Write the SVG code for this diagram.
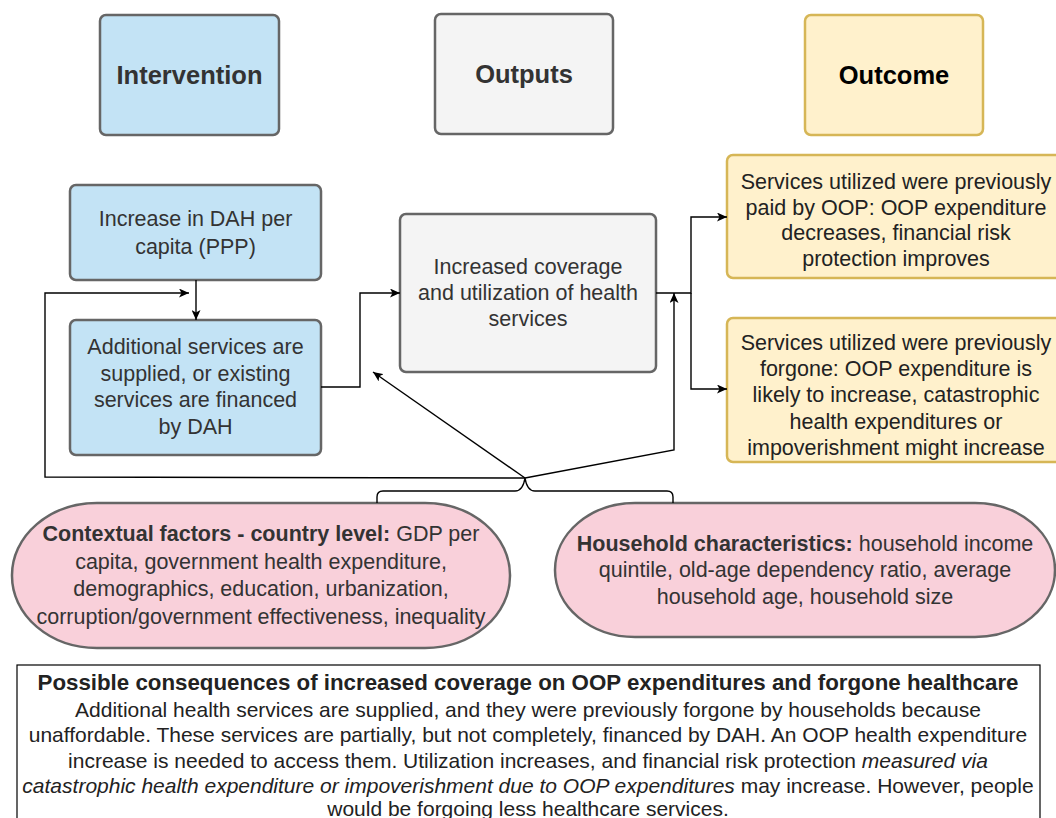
<svg xmlns="http://www.w3.org/2000/svg" width="1056" height="818" viewBox="0 0 1056 818">
<defs>
<marker id="arr" markerUnits="userSpaceOnUse" markerWidth="11" markerHeight="9" refX="10" refY="4.5" orient="auto">
<path d="M0,0 L10,4.5 L0,9 L2.5,4.5 z" fill="#000"/>
</marker>
<style>
text{font-family:"Liberation Sans",Arial,sans-serif;}
.hd{font-size:25.5px;font-weight:bold;text-anchor:middle;}
.t{font-size:21.5px;text-anchor:middle;fill:#333;}
.blue{fill:#c3e3f5;stroke:#666;stroke-width:2.5;}
.grey{fill:#f4f4f4;stroke:#666;stroke-width:2.5;}
.yel{fill:#fff1cc;stroke:#d6b656;stroke-width:2.5;}
.pink{fill:#f9d0da;stroke:#666;stroke-width:2.5;}
.c{fill:none;stroke:#000;stroke-width:1.4;}
.bt{font-size:21px;text-anchor:middle;fill:#222;}
</style>
</defs>
<rect width="1056" height="818" fill="#fff"/>

<g id="hdr-intervention"><rect class="blue" x="100" y="15" width="179" height="120" rx="6"/><text class="hd" x="189.5" y="84" fill="#333">Intervention</text></g>
<g id="hdr-outputs"><rect class="grey" x="435" y="14" width="178" height="120" rx="6"/><text class="hd" x="524" y="83" fill="#333">Outputs</text></g>
<g id="hdr-outcome"><rect class="yel" x="805" y="15" width="178" height="120" rx="6"/><text class="hd" x="894" y="84" fill="#000">Outcome</text></g>

<g id="n-dah"><rect class="blue" x="70" y="185" width="251" height="95" rx="6"/>
<text class="t" x="195.5"><tspan x="195.5" y="226">Increase in DAH per</tspan><tspan x="195.5" y="254">capita (PPP)</tspan></text></g>

<g id="n-additional"><rect class="blue" x="70" y="320" width="251" height="135" rx="6"/>
<text class="t"><tspan x="195.5" y="354">Additional services are</tspan><tspan x="195.5" y="380.5">supplied, or existing</tspan><tspan x="195.5" y="407">services are financed</tspan><tspan x="195.5" y="434">by DAH</tspan></text></g>

<g id="n-coverage"><rect class="grey" x="400" y="214" width="256" height="158" rx="6"/>
<text class="t"><tspan x="528" y="274">Increased coverage</tspan><tspan x="528" y="300">and utilization of health</tspan><tspan x="528" y="326">services</tspan></text></g>

<g id="n-paid"><rect class="yel" x="727" y="155" width="338" height="123" rx="6"/>
<text class="t" style="fill:#222"><tspan x="896" y="189">Services utilized were previously</tspan><tspan x="896" y="214.5">paid by OOP: OOP expenditure</tspan><tspan x="896" y="240">decreases, financial risk</tspan><tspan x="896" y="265.5">protection improves</tspan></text></g>

<g id="n-forgone"><rect class="yel" x="727" y="318" width="338" height="144" rx="6"/>
<text class="t" style="fill:#222"><tspan x="896" y="350">Services utilized were previously</tspan><tspan x="896" y="376">forgone: OOP expenditure is</tspan><tspan x="896" y="402">likely to increase, catastrophic</tspan><tspan x="896" y="428.5">health expenditures or</tspan><tspan x="896" y="455">impoverishment might increase</tspan></text></g>

<g id="n-context"><rect class="pink" x="12" y="503" width="498" height="145" rx="85" ry="72"/>
<text class="t"><tspan x="261" y="540.5"><tspan font-weight="bold">Contextual factors - country level:</tspan> GDP per</tspan><tspan x="261" y="568.5">capita, government health expenditure,</tspan><tspan x="261" y="596">demographics, education, urbanization,</tspan><tspan x="261" y="623.5">corruption/government effectiveness, inequality</tspan></text></g>

<g id="n-household"><rect class="pink" x="555" y="503" width="500" height="134" rx="80" ry="67"/>
<text class="t"><tspan x="805" y="551"><tspan font-weight="bold">Household characteristics:</tspan> household income</tspan><tspan x="805" y="577">quintile, old-age dependency ratio, average</tspan><tspan x="805" y="603.5">household age, household size</tspan></text></g>

<g id="n-consequences"><rect x="17" y="665" width="1023" height="170" fill="#fff" stroke="#000" stroke-width="1.2"/>
<text class="bt" x="528" y="689.5" font-weight="bold" fill="#000" style="font-size:22.3px">Possible consequences of increased coverage on OOP expenditures and forgone healthcare</text>
<text class="bt"><tspan x="528" y="717">Additional health services are supplied, and they were previously forgone by households because</tspan><tspan x="528" y="742">unaffordable. These services are partially, but not completely, financed by DAH. An OOP health expenditure</tspan><tspan x="528" y="767.5">increase is needed to access them. Utilization increases, and financial risk protection <tspan font-style="italic">measured via</tspan></tspan><tspan x="528" y="792.5"><tspan font-style="italic">catastrophic health expenditure or impoverishment due to OOP expenditures</tspan> may increase. However, people</tspan><tspan x="528" y="816">would be forgoing less healthcare services.</tspan></text></g>

<g id="connectors">
<path class="c" d="M196,280 V320" marker-end="url(#arr)"/>
<path class="c" d="M525,478 L45,477 V293 H189" marker-end="url(#arr)"/>
<path class="c" d="M321,387 H360 V293 H400" marker-end="url(#arr)"/>
<path class="c" d="M656,293 H691 V217 H727" marker-end="url(#arr)"/>
<path class="c" d="M691,293 V389 H727" marker-end="url(#arr)"/>
<path class="c" d="M525,478 L373,372" marker-end="url(#arr)"/>
<path class="c" d="M525,478 L674,450 V293" marker-end="url(#arr)"/>
<path class="c" d="M377,503 V497 Q377,491 383,491 H515 Q523,491 525,478 Q527,491 535,491 H667 Q673,491 673,497 V503"/>
</g>
</svg>
